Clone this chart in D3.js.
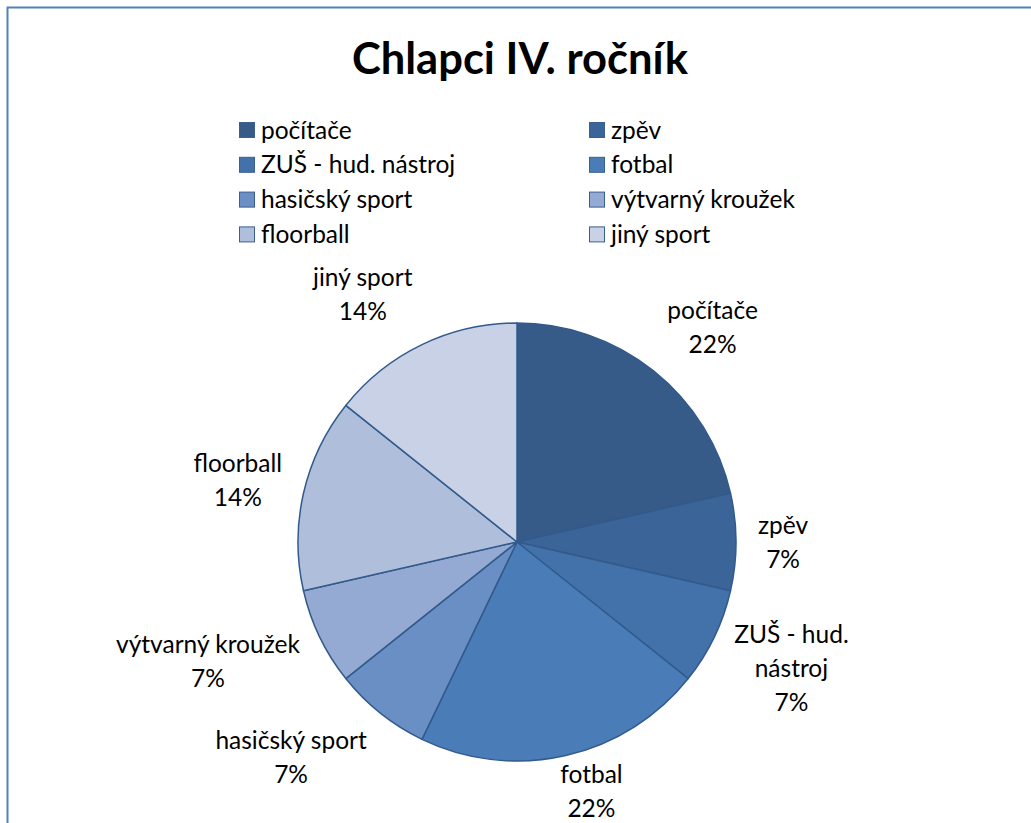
<!DOCTYPE html>
<html>
<head>
<meta charset="utf-8">
<script src="https://cdn.jsdelivr.net/npm/d3@7"></script>
<style>
    body { margin: 0; background: #fff; }
    svg { display: block; font-family: Lato, "Open Sans", sans-serif; }
</style>
</head>
<body>
<div id="container"></div>
<script>
// Chart data
const title = "Chlapci IV. ročník";
const categories = ["počítače", "zpěv", "ZUŠ - hud. nástroj", "fotbal", "hasičský sport", "výtvarný kroužek", "floorball", "jiný sport"];
const counts = [3, 1, 1, 3, 1, 1, 2, 2];
const percentLabels = ["22%", "7%", "7%", "22%", "7%", "7%", "14%", "14%"];
const colors = ["#365b88", "#3b6598", "#4372aa", "#4a7db8", "#6a8fc4", "#94aad2", "#afbfdb", "#c8d1e5"];

const width = 1031;
const height = 823;
const cx = 517, cy = 542, radius = 219;
const fontSize = 24.5;

const svg = d3.select("#container").append("svg")
    .attr("width", width)
    .attr("height", height);

// frame (only top and left edges visible in the picture)
svg.append("rect")
    .attr("x", 7.5).attr("y", 7.5)
    .attr("width", width + 20).attr("height", height + 20)
    .attr("fill", "#fff")
    .attr("stroke", "#4f81bd")
    .attr("stroke-width", 2);

// title
svg.append("text")
    .attr("x", 520)
    .attr("y", 74)
    .attr("text-anchor", "middle")
    .attr("font-size", 43.5)
    .attr("font-weight", "bold")
    .text(title);

// legend, two columns
const legend = svg.append("g").attr("transform", "translate(239,122)");
const item = legend.selectAll("g")
    .data(categories)
    .join("g")
    .attr("transform", (d, i) => `translate(${(i % 2) * 350},${Math.floor(i / 2) * 34.8})`);

item.append("rect")
    .attr("x", 0.5).attr("y", 0.5)
    .attr("width", 15).attr("height", 15)
    .attr("fill", (d, i) => colors[i])
    .attr("stroke", "#3b5f8f")
    .attr("stroke-width", 1);

item.append("text")
    .attr("x", 22)
    .attr("y", 8)
    .attr("dy", "0.35em")
    .attr("font-size", fontSize)
    .text(d => d);

// pie
const pie = d3.pie().sort(null).value(d => d);
const arcs = pie(counts);
const arc = d3.arc().innerRadius(0).outerRadius(radius);

const g = svg.append("g").attr("transform", `translate(${cx},${cy})`);

g.selectAll("path")
    .data(arcs)
    .join("path")
    .attr("d", arc)
    .attr("fill", (d, i) => colors[i])
    .attr("stroke", "#325a8c")
    .attr("stroke-width", 1.5)
    .attr("stroke-linejoin", "round");

// data labels outside the pie
function labelLines(name, i) {
    let lines = [name];
    if (name.length > 16) {
        let cut = name.lastIndexOf(" ", 11);
        lines = [name.slice(0, cut), name.slice(cut + 1)];
    }
    return lines.concat(percentLabels[i]);
}

const lineH = 34;
const gap = 22;
const labels = g.append("g").attr("font-size", fontSize).attr("text-anchor", "middle");

arcs.forEach((a, i) => {
    const lines = labelLines(categories[i], i);
    const t = labels.append("text");
    lines.forEach((s, k) => {
        t.append("tspan")
            .attr("x", 0)
            .attr("y", k * lineH)
            .text(s);
    });
    const w = d3.max(t.selectAll("tspan").nodes(), n => n.getComputedTextLength());
    const h = lines.length * lineH;
    const mid = (a.startAngle + a.endAngle) / 2;
    const s = Math.sin(mid), c = Math.cos(mid);
    const px = (radius + gap) * s, py = -(radius + gap) * c;
    const ox = (w / 2) * Math.max(-1, Math.min(1, s * 3));
    const oy = -(h / 2) * c;
    const x = px + ox;
    // keep the label inside the chart area at the bottom
    const y = Math.min(py + oy, height + 2 - cy - h / 2);
    // center the block of lines on (x, y)
    t.attr("transform", `translate(${x},${y - h / 2 + lineH * 0.5})`);
    t.selectAll("tspan").attr("dy", "0.35em");
});
</script>
</body>
</html>
